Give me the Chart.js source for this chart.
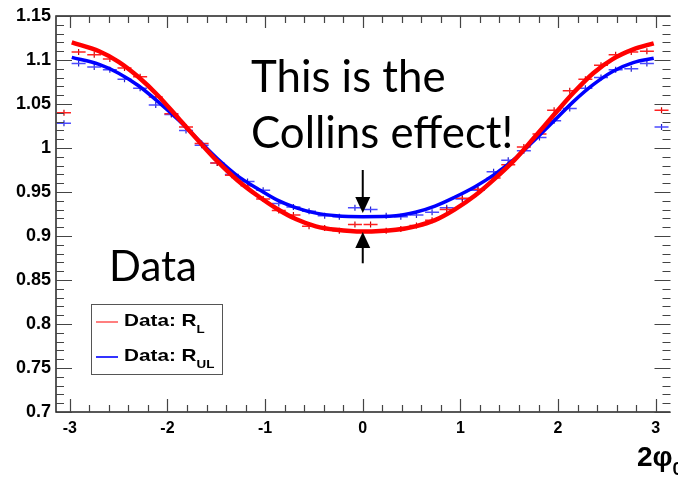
<!DOCTYPE html>
<html>
<head>
<meta charset="utf-8">
<script src="https://cdn.jsdelivr.net/npm/chart.js@4.4.0/dist/chart.umd.min.js"></script>
<style>
  html, body { margin: 0; padding: 0; background: #fff; }
  #wrap { position: relative; width: 678px; height: 479px; overflow: hidden; }
  #myChart { position: absolute; left: 0; top: 0; }
  .note { position: absolute; font-family: Lato, "Open Sans", sans-serif; font-size: 43.8px; line-height: 43.8px; color: #000; white-space: nowrap; }
  #legend { position: absolute; left: 91px; top: 304px; width: 132px; height: 71px; border: 1.5px solid #555; box-sizing: border-box; background: #fff;
            font-family: "Liberation Sans", Arial, sans-serif; font-weight: bold; font-size: 17px; color: #000; }
  .row { position: absolute; left: 32px; line-height: 17px; white-space: nowrap; transform: scaleX(1.22); transform-origin: left center; }
  .row sub { font-size: 11px; vertical-align: baseline; position: relative; top: 7px; }
  .swatch { position: absolute; left: 4px; width: 22px; height: 2px; }
  #xtitle { position: absolute; left: 637px; top: 443px; font-family: "Liberation Sans", Arial, sans-serif; font-weight: bold; font-size: 28px; line-height: 28px; white-space: nowrap; }
  #xtitle sub { font-size: 18px; vertical-align: baseline; position: relative; top: 9px; }
</style>
</head>
<body>
<div id="wrap">
  <canvas id="myChart" width="678" height="479"></canvas>
  <div class="note" style="left:251px; top:54px;">This is the</div>
  <div class="note" style="left:251px; top:110px;">Collins effect!</div>
  <div class="note" style="left:109px; top:244px; font-size:42px; line-height:42px;">Data</div>
  <div id="legend">
    <div class="swatch" style="top:16px; background:#ff7f7f;"></div>
    <div class="row" style="top:7px;">Data: R<sub>L</sub></div>
    <div class="swatch" style="top:51px; height:1.5px; background:#3333ff;"></div>
    <div class="row" style="top:42px;">Data: R<sub>UL</sub></div>
  </div>
  <div id="xtitle">2&phi;<sub>0</sub></div>
</div>
<script>
// axis ticks
const xTicks = [-3, -2, -1, 0, 1, 2, 3]
const yTicks = [0.7, 0.75, 0.8, 0.85, 0.9, 0.95, 1, 1.05, 1.1, 1.15]

// bin centres (2 phi0)
const binX = [-3.06, -2.91, -2.75, -2.59, -2.44, -2.28, -2.12, -1.96, -1.81, -1.65,
              -1.49, -1.34, -1.18, -1.02, -0.86, -0.71, -0.55, -0.39, -0.24, -0.08,
               0.08,  0.24,  0.39,  0.55,  0.71,  0.86,  1.02,  1.18,  1.34,  1.49,
               1.65,  1.81,  1.96,  2.12,  2.28,  2.44,  2.59,  2.75,  2.91,  3.06]

// measured ratios
const dataRL = [1.040, 1.109, 1.106, 1.101, 1.091, 1.081, 1.058, 1.039, 1.024, 1.005,
                0.983, 0.969, 0.957, 0.942, 0.929, 0.924, 0.911, 0.909, 0.906, 0.913,
                0.913, 0.906, 0.908, 0.912, 0.918, 0.930, 0.943, 0.953, 0.966, 0.981,
                1.001, 1.016, 1.043, 1.065, 1.078, 1.094, 1.106, 1.109, 1.110, 1.043]
const dataRUL = [1.028, 1.096, 1.092, 1.089, 1.078, 1.068, 1.049, 1.038, 1.020, 1.003,
                 0.983, 0.970, 0.962, 0.952, 0.937, 0.933, 0.928, 0.923, 0.922, 0.932,
                 0.930, 0.923, 0.922, 0.924, 0.927, 0.932, 0.942, 0.952, 0.973, 0.986,
                 0.997, 1.012, 1.031, 1.045, 1.068, 1.080, 1.089, 1.090, 1.096, 1.024]

// fitted curves
const fitX = [-2.98, -2.70, -2.50, -2.30, -2.10, -1.89, -1.69, -1.49, -1.29, -1.08,
              -0.88, -0.68, -0.48, -0.27, 0.00, 0.34, 0.54, 0.74, 0.94, 1.15,
               1.35, 1.55, 1.75, 1.96, 2.16, 2.36, 2.56, 2.77, 2.98]
const fitRL = [1.120, 1.110, 1.098, 1.081, 1.060, 1.034, 1.009, 0.985, 0.964, 0.946,
               0.931, 0.919, 0.911, 0.907, 0.905, 0.907, 0.911, 0.918, 0.930, 0.946,
               0.965, 0.986, 1.011, 1.038, 1.063, 1.085, 1.101, 1.112, 1.119]
const fitRUL = [1.103, 1.095, 1.085, 1.071, 1.053, 1.032, 1.010, 0.988, 0.969, 0.954,
                0.941, 0.932, 0.926, 0.923, 0.922, 0.923, 0.927, 0.934, 0.944, 0.956,
                0.970, 0.987, 1.008, 1.031, 1.053, 1.072, 1.087, 1.097, 1.102]

// arrows at 2phi0 = 0 (tail -> tip)
const arrows = [{ x: 0, from: 0.975, to: 0.926 }, { x: 0, from: 0.869, to: 0.9045 }]

const pts = (xs, ys) => xs.map((x, i) => ({ x: x, y: ys[i] }))

const RED = '#ff0000'
const BLUE = '#0000ff'

const rootFrame = {
  id: 'rootFrame',
  afterDatasetsDraw(chart) {
    const { ctx, chartArea: a, scales: { x, y } } = chart
    ctx.save()
    // arrows
    ctx.strokeStyle = '#000'
    ctx.fillStyle = '#000'
    arrows.forEach(ar => {
      const px = x.getPixelForValue(ar.x)
      const y0 = y.getPixelForValue(ar.from)
      const y1 = y.getPixelForValue(ar.to)
      const dir = y1 > y0 ? 1 : -1
      ctx.lineWidth = 2
      ctx.beginPath()
      ctx.moveTo(px, y0)
      ctx.lineTo(px, y1 - dir * 14)
      ctx.stroke()
      ctx.beginPath()
      ctx.moveTo(px, y1)
      ctx.lineTo(px - 7.5, y1 - dir * 16)
      ctx.lineTo(px + 7.5, y1 - dir * 16)
      ctx.closePath()
      ctx.fill()
    })
    // frame (right edge falls at the picture border)
    ctx.strokeStyle = '#222'
    ctx.lineWidth = 1.5
    ctx.beginPath()
    ctx.moveTo(a.right + 1, a.top)
    ctx.lineTo(a.left, a.top)
    ctx.lineTo(a.left, a.bottom)
    ctx.lineTo(a.right + 1, a.bottom)
    ctx.stroke()
    // y ticks, major every 0.05, minor every 0.01
    ctx.lineWidth = 1.2
    ctx.strokeStyle = '#444'
    for (let i = 70; i <= 115; i++) {
      const py = Math.round(y.getPixelForValue(i / 100)) + 0.5
      const len = i % 5 === 0 ? 16 : 8
      ctx.beginPath()
      ctx.moveTo(a.left, py); ctx.lineTo(a.left + len, py)
      ctx.moveTo(a.right + 1, py); ctx.lineTo(a.right + 1 - len, py)
      ctx.stroke()
    }
    // x ticks, major every 1, minor every 0.2
    for (let i = -15; i <= 15; i++) {
      const px = Math.round(x.getPixelForValue(i / 5)) + 0.5
      const major = i % 5 === 0
      ctx.beginPath()
      ctx.moveTo(px, a.bottom); ctx.lineTo(px, a.bottom - (major ? 13 : 7))
      ctx.moveTo(px, a.top); ctx.lineTo(px, a.top + (major ? 12 : 7))
      ctx.stroke()
    }
    ctx.restore()
  }
}

const chart = document.getElementById('myChart')

new Chart(chart, {
  type: 'scatter',
  data: {
    datasets: [
      { label: 'fit RL', data: pts(fitX, fitRL), showLine: true, borderColor: RED, borderWidth: 4.5, pointRadius: 0, cubicInterpolationMode: 'monotone', order: 0 },
      { label: 'fit RUL', data: pts(fitX, fitRUL), showLine: true, borderColor: BLUE, borderWidth: 3.5, pointRadius: 0, cubicInterpolationMode: 'monotone', order: 1 },
      { label: 'Data: RL', data: pts(binX, dataRL), pointStyle: 'line', pointRadius: 7, borderColor: '#ff2020', borderWidth: 1.5, order: 2 },
      { label: 'Data: RL err', data: pts(binX, dataRL), pointStyle: 'line', rotation: 90, pointRadius: 3, borderColor: '#cc0000', borderWidth: 1.2, order: 2 },
      { label: 'Data: RUL', data: pts(binX, dataRUL), pointStyle: 'line', pointRadius: 7, borderColor: '#4a4aff', borderWidth: 1.5, order: 3 },
      { label: 'Data: RUL err', data: pts(binX, dataRUL), pointStyle: 'line', rotation: 90, pointRadius: 3, borderColor: '#2020cc', borderWidth: 1.2, order: 3 }
    ]
  },
  options: {
    responsive: false,
    animation: false,
    events: [],
    layout: { padding: { top: 16, right: 1, left: 0, bottom: 0 } },
    plugins: { legend: { display: false }, tooltip: { enabled: false } },
    scales: {
      x: {
        type: 'linear',
        min: -Math.PI,
        max: Math.PI,
        afterBuildTicks: s => { s.ticks = xTicks.map(v => ({ value: v })) },
        afterFit: s => { s.height = 67 },
        grid: { display: false, drawTicks: false },
        border: { display: false },
        ticks: { autoSkip: false, maxRotation: 0, padding: 7, color: '#000',
                 font: { family: 'Liberation Sans', weight: 'bold', size: 16 },
                 callback: v => String(v) }
      },
      y: {
        min: 0.7,
        max: 1.15,
        afterBuildTicks: s => { s.ticks = yTicks.map(v => ({ value: v })) },
        afterFit: s => { s.width = 56 },
        grid: { display: false, drawTicks: false },
        border: { display: false },
        ticks: { autoSkip: false, padding: 5, color: '#000',
                 font: { family: 'Liberation Sans', weight: 'bold', size: 18 },
                 callback: v => String(v) }
      }
    }
  },
  plugins: [rootFrame]
})
</script>
</body>
</html>
